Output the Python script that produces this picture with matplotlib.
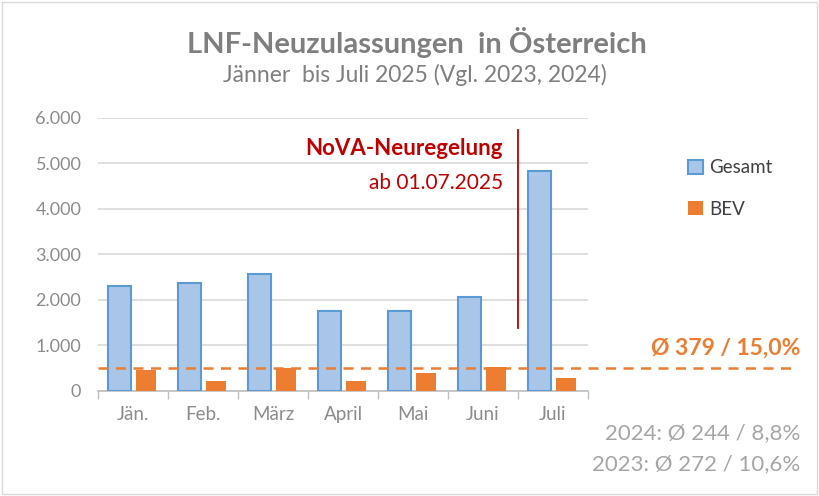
import numpy as np
import matplotlib.pyplot as plt
from matplotlib.patches import Rectangle

# --- DATEN ---
monate = ["Jän.", "Feb.", "März", "April", "Mai", "Juni", "Juli"]
gesamt = [2300, 2370, 2570, 1760, 1760, 2070, 4840]
bev = [460, 220, 500, 220, 395, 530, 290]
avg_line = 510          # orange gestrichelte Linie (Ø 379 / 15,0%)
nova_x = 5.5            # Grenze Juni / Juli
nova_y = [1390, 5740]

grau = "#7f7f7f"
blau_fill = "#a9c6e8"
blau_rand = "#5b9bd5"
orange = "#ed7d31"
rot = "#c00000"

plt.rcParams['font.family'] = ['Lato', 'DejaVu Sans']

fig = plt.figure(figsize=(8.19, 4.96), dpi=100)
ax = fig.add_axes([0.1197, 0.2117, 0.5983, 0.5505])

x = np.arange(len(monate))
ax.bar(x - 0.19, gesamt, width=0.33, color=blau_fill, edgecolor=blau_rand, linewidth=1.5, zorder=3, label="Gesamt")
ax.bar(x + 0.19, bev, width=0.29, color=orange, zorder=3, label="BEV")

ax.set_xlim(-0.5, 6.5)
ax.set_ylim(0, 6000)
ax.set_yticks(range(0, 6001, 1000))
ax.set_yticklabels(["0", "1.000", "2.000", "3.000", "4.000", "5.000", "6.000"])
ax.set_xticks(x)
ax.set_xticklabels(monate)
ax.set_xticks(np.arange(-0.5, 7, 1), minor=True)
ax.tick_params(axis='x', which='major', length=0, pad=11, labelsize=13.5, labelcolor="#8c8c8c")
ax.tick_params(axis='x', which='minor', length=6, color="#bfbfbf", width=1)
ax.tick_params(axis='y', length=0, pad=12, labelsize=13, labelcolor="#8c8c8c")
ax.grid(axis='y', color="#d9d9d9", linewidth=1.2, zorder=0)
for s in ["top", "right", "left"]:
    ax.spines[s].set_visible(False)
ax.spines["bottom"].set_color("#bfbfbf")
ax.spines["bottom"].set_linewidth(1.2)

# gestrichelte Durchschnittslinie (reicht bis rechts raus)
ax.plot([-0.5, 9.5], [avg_line, avg_line], color=orange, linestyle=(0, (4, 3)), linewidth=1.8,
        clip_on=False, zorder=4)

# NoVA Markierung
ax.plot([nova_x, nova_x], nova_y, color=rot, linewidth=1.3, zorder=4)
ax.text(5.28, 5330, "NoVA-Neuregelung", color=rot, fontsize=16, fontweight='bold', ha='right', va='center')
ax.text(5.28, 4560, "ab 01.07.2025", color=rot, fontsize=15, ha='right', va='center')

# Legende
leg = ax.legend(loc='upper left', bbox_to_anchor=(1.17, 0.91), frameon=False, fontsize=13.5,
                labelspacing=1.3, handlelength=0.8, handleheight=0.8, handletextpad=0.3)
for t in leg.get_texts():
    t.set_color("#404040")

# Texte rechts
fig.text(800/819, 1-348/496, "Ø 379 / 15,0%", color=orange, fontsize=16.5, fontweight='bold',
         ha='right', va='center')
fig.text(800/819, 1-433/496, "2024: Ø 244 / 8,8%", color="#a6a6a6", fontsize=16, ha='right', va='center')
fig.text(800/819, 1-464/496, "2023: Ø 272 / 10,6%", color="#a6a6a6", fontsize=16, ha='right', va='center')

# Titel
fig.text(417/819, 1-42/496, "LNF-Neuzulassungen  in Österreich", color=grau, fontsize=21,
         fontweight='bold', ha='center', va='center')
fig.text(415/819, 1-75/496, "Jänner  bis Juli 2025 (Vgl. 2023, 2024)", color=grau, fontsize=16.5,
         ha='center', va='center')

# Rahmen
fig.patches.append(Rectangle((0.002, 0.004), 0.996, 0.992, transform=fig.transFigure,
                             fill=False, edgecolor="#d9d9d9", linewidth=1))

fig.savefig("out.png", dpi=100)
